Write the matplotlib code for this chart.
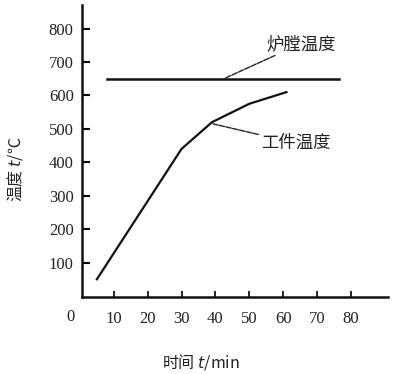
import matplotlib
matplotlib.use("Agg")
import matplotlib.pyplot as plt

# data
furnace_t = [8, 76.5]
furnace_T = [650, 650]
work_t = [5, 30, 39, 50, 61]
work_T = [50, 440, 520, 575, 610]
xticks = [10, 20, 30, 40, 50, 60, 70, 80]
yticks = [100, 200, 300, 400, 500, 600, 700, 800]

cjk = ['Noto Sans CJK SC', 'DejaVu Sans']
serif = 'Liberation Serif'

fig = plt.figure(figsize=(4.0, 3.74), dpi=100)
ax = fig.add_axes([0.205, 0.206, 0.765, 0.78])
ax.plot(furnace_t, furnace_T, color='#111111', lw=1.8)
ax.plot(work_t, work_T, color='#111111', lw=1.6)

ax.set_xlim(0.6, 91)
ax.set_ylim(-3, 870)
ax.set_xticks(xticks)
ax.set_yticks(yticks)
ax.set_xticklabels([str(v) for v in xticks], family=serif, fontsize=12, color='#222222')
ax.set_yticklabels([str(v) for v in yticks], family=serif, fontsize=12, color='#222222')
ax.tick_params(axis='y', direction='in', length=6, width=1.5, pad=6)
ax.tick_params(axis='x', direction='in', length=4, width=1.2, pad=10)
for s in ['top', 'right']:
    ax.spines[s].set_visible(False)
for s in ['left', 'bottom']:
    ax.spines[s].set_linewidth(1.8)
    ax.spines[s].set_color('#111111')

ax.text(-2.8, -64, '0', family=serif, fontsize=12, color='#222222', ha='center', va='center')

ax.annotate('炉膛温度', xy=(42.5, 650), xytext=(55, 755), family=cjk, fontsize=12.5,
            color='#222222', ha='left', va='center',
            arrowprops=dict(arrowstyle='-', color='#222222', lw=1.0, ls=(0, (4, 1)), shrinkA=0, shrinkB=0))
ax.annotate('工件温度', xy=(39.3, 515), xytext=(53.5, 457), family=cjk, fontsize=12.5,
            color='#222222', ha='left', va='center',
            arrowprops=dict(arrowstyle='-', color='#222222', lw=1.0, ls=(0, (4, 1)), shrinkA=0, shrinkB=0))

fig.text(0.037, 0.548, '温度 $t$/℃', family=cjk, fontsize=11.5, rotation=90,
         ha='center', va='center', color='#222222')
fig.text(0.502, 0.032, '时间 $t$/min', family=cjk, fontsize=11.5,
         ha='center', va='center', color='#222222')

fig.savefig('out.png', dpi=100)
